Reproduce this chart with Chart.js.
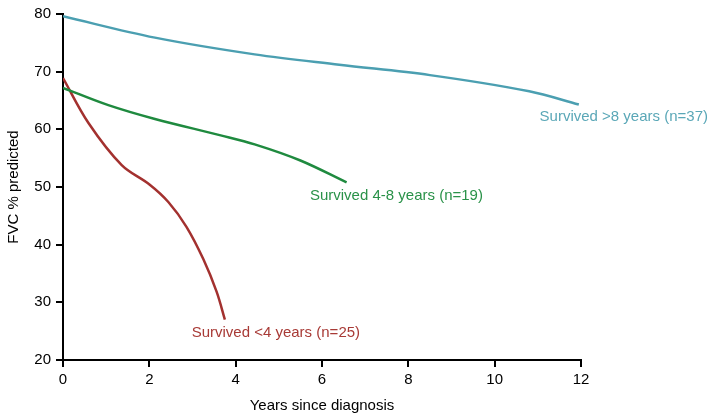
<!DOCTYPE html>
<html>
<head>
<meta charset="utf-8">
<script src="https://cdn.jsdelivr.net/npm/chart.js@4.4.1/dist/chart.umd.min.js"></script>
<style>
  html, body { margin: 0; padding: 0; background: #fff; }
  #wrap { width: 709px; height: 415px; position: relative; }
</style>
</head>
<body>
<div id="wrap"><canvas id="fvcChart"></canvas></div>
<script>
// Series values: [years since diagnosis, FVC % predicted]
const over8Years = [[0, 79.6], [2.13, 75.9], [4.44, 73.0], [6.4, 71.2], [8.5, 69.4], [10.8, 66.6], [11.95, 64.3]];
const from4to8Years = [[0, 67.2], [1.05, 64.2], [2.13, 61.8], [3.63, 59.0], [4.44, 57.4], [5.5, 54.6], [6.57, 50.8]];
const under4Years = [[0, 68.9], [0.59, 61.1], [1.36, 53.8], [2.01, 50.4], [2.44, 47.4], [2.86, 43.1], [3.25, 37.5], [3.56, 31.8], [3.75, 27.0]];

const seriesNames = ['Survived >8 years (n=37)', 'Survived 4-8 years (n=19)', 'Survived <4 years (n=25)'];
const lineColors = ['#4b9fb1', '#1f8a3f', '#a3312f'];
const textColors = ['#5aa7b7', '#2a9249', '#a83a36'];

const xTicks = [0, 2, 4, 6, 8, 10, 12];
const yTicks = [20, 30, 40, 50, 60, 70, 80];

// where each series' text label sits, in data units (left edge, middle)
const labelAnchors = [[11.04, 62.1], [5.72, 48.45], [2.98, 24.7]];

const toPoints = arr => arr.map(p => ({ x: p[0], y: p[1] }));

// draws the text label next to each curve
const curveLabels = {
  id: 'curveLabels',
  afterDatasetsDraw(chart) {
    const ctx = chart.ctx;
    const xs = chart.scales.x, ys = chart.scales.y;
    ctx.save();
    ctx.font = '15px "Liberation Sans", Arial, sans-serif';
    ctx.textAlign = 'left';
    ctx.textBaseline = 'middle';
    labelAnchors.forEach((a, i) => {
      ctx.fillStyle = textColors[i];
      ctx.fillText(seriesNames[i], xs.getPixelForValue(a[0]), ys.getPixelForValue(a[1]));
    });
    ctx.restore();
  }
};

const axisFont = { family: '"Liberation Sans", Arial, sans-serif', size: 15 };

new Chart(document.getElementById('fvcChart'), {
  type: 'line',
  data: {
    datasets: [over8Years, from4to8Years, under4Years].map((d, i) => ({
      label: seriesNames[i],
      data: toPoints(d),
      borderColor: lineColors[i],
      borderWidth: 2.5,
      pointRadius: 0,
      fill: false,
      tension: 0.35
    }))
  },
  options: {
    responsive: true,
    maintainAspectRatio: false,
    animation: false,
    layout: { padding: { left: 0, right: 128, top: 5, bottom: 0 } },
    plugins: {
      legend: { display: false },
      tooltip: { enabled: false }
    },
    scales: {
      x: {
        type: 'linear',
        min: 0,
        max: 12,
        afterBuildTicks: s => { s.ticks = xTicks.map(v => ({ value: v })); },
        afterFit: s => { s.height = 55; },
        border: { color: '#000', width: 2 },
        grid: { drawOnChartArea: false, drawTicks: true, tickLength: 7, color: '#000', lineWidth: 2 },
        ticks: { color: '#000', font: axisFont, padding: 4, maxRotation: 0 },
        title: { display: true, text: 'Years since diagnosis', color: '#000', font: { family: axisFont.family, size: 15 }, padding: { top: 9, bottom: 0 } }
      },
      y: {
        min: 20,
        max: 80,
        afterBuildTicks: s => { s.ticks = yTicks.map(v => ({ value: v })); },
        afterFit: s => { s.width = 63; },
        border: { color: '#000', width: 2 },
        grid: { drawOnChartArea: false, drawTicks: true, tickLength: 7, color: '#000', lineWidth: 2 },
        ticks: { color: '#000', font: axisFont, padding: 5 },
        title: { display: true, text: 'FVC % predicted', color: '#000', font: { family: axisFont.family, size: 15 }, padding: { top: 5, bottom: 0 } }
      }
    }
  },
  plugins: [curveLabels]
});
</script>
</body>
</html>
